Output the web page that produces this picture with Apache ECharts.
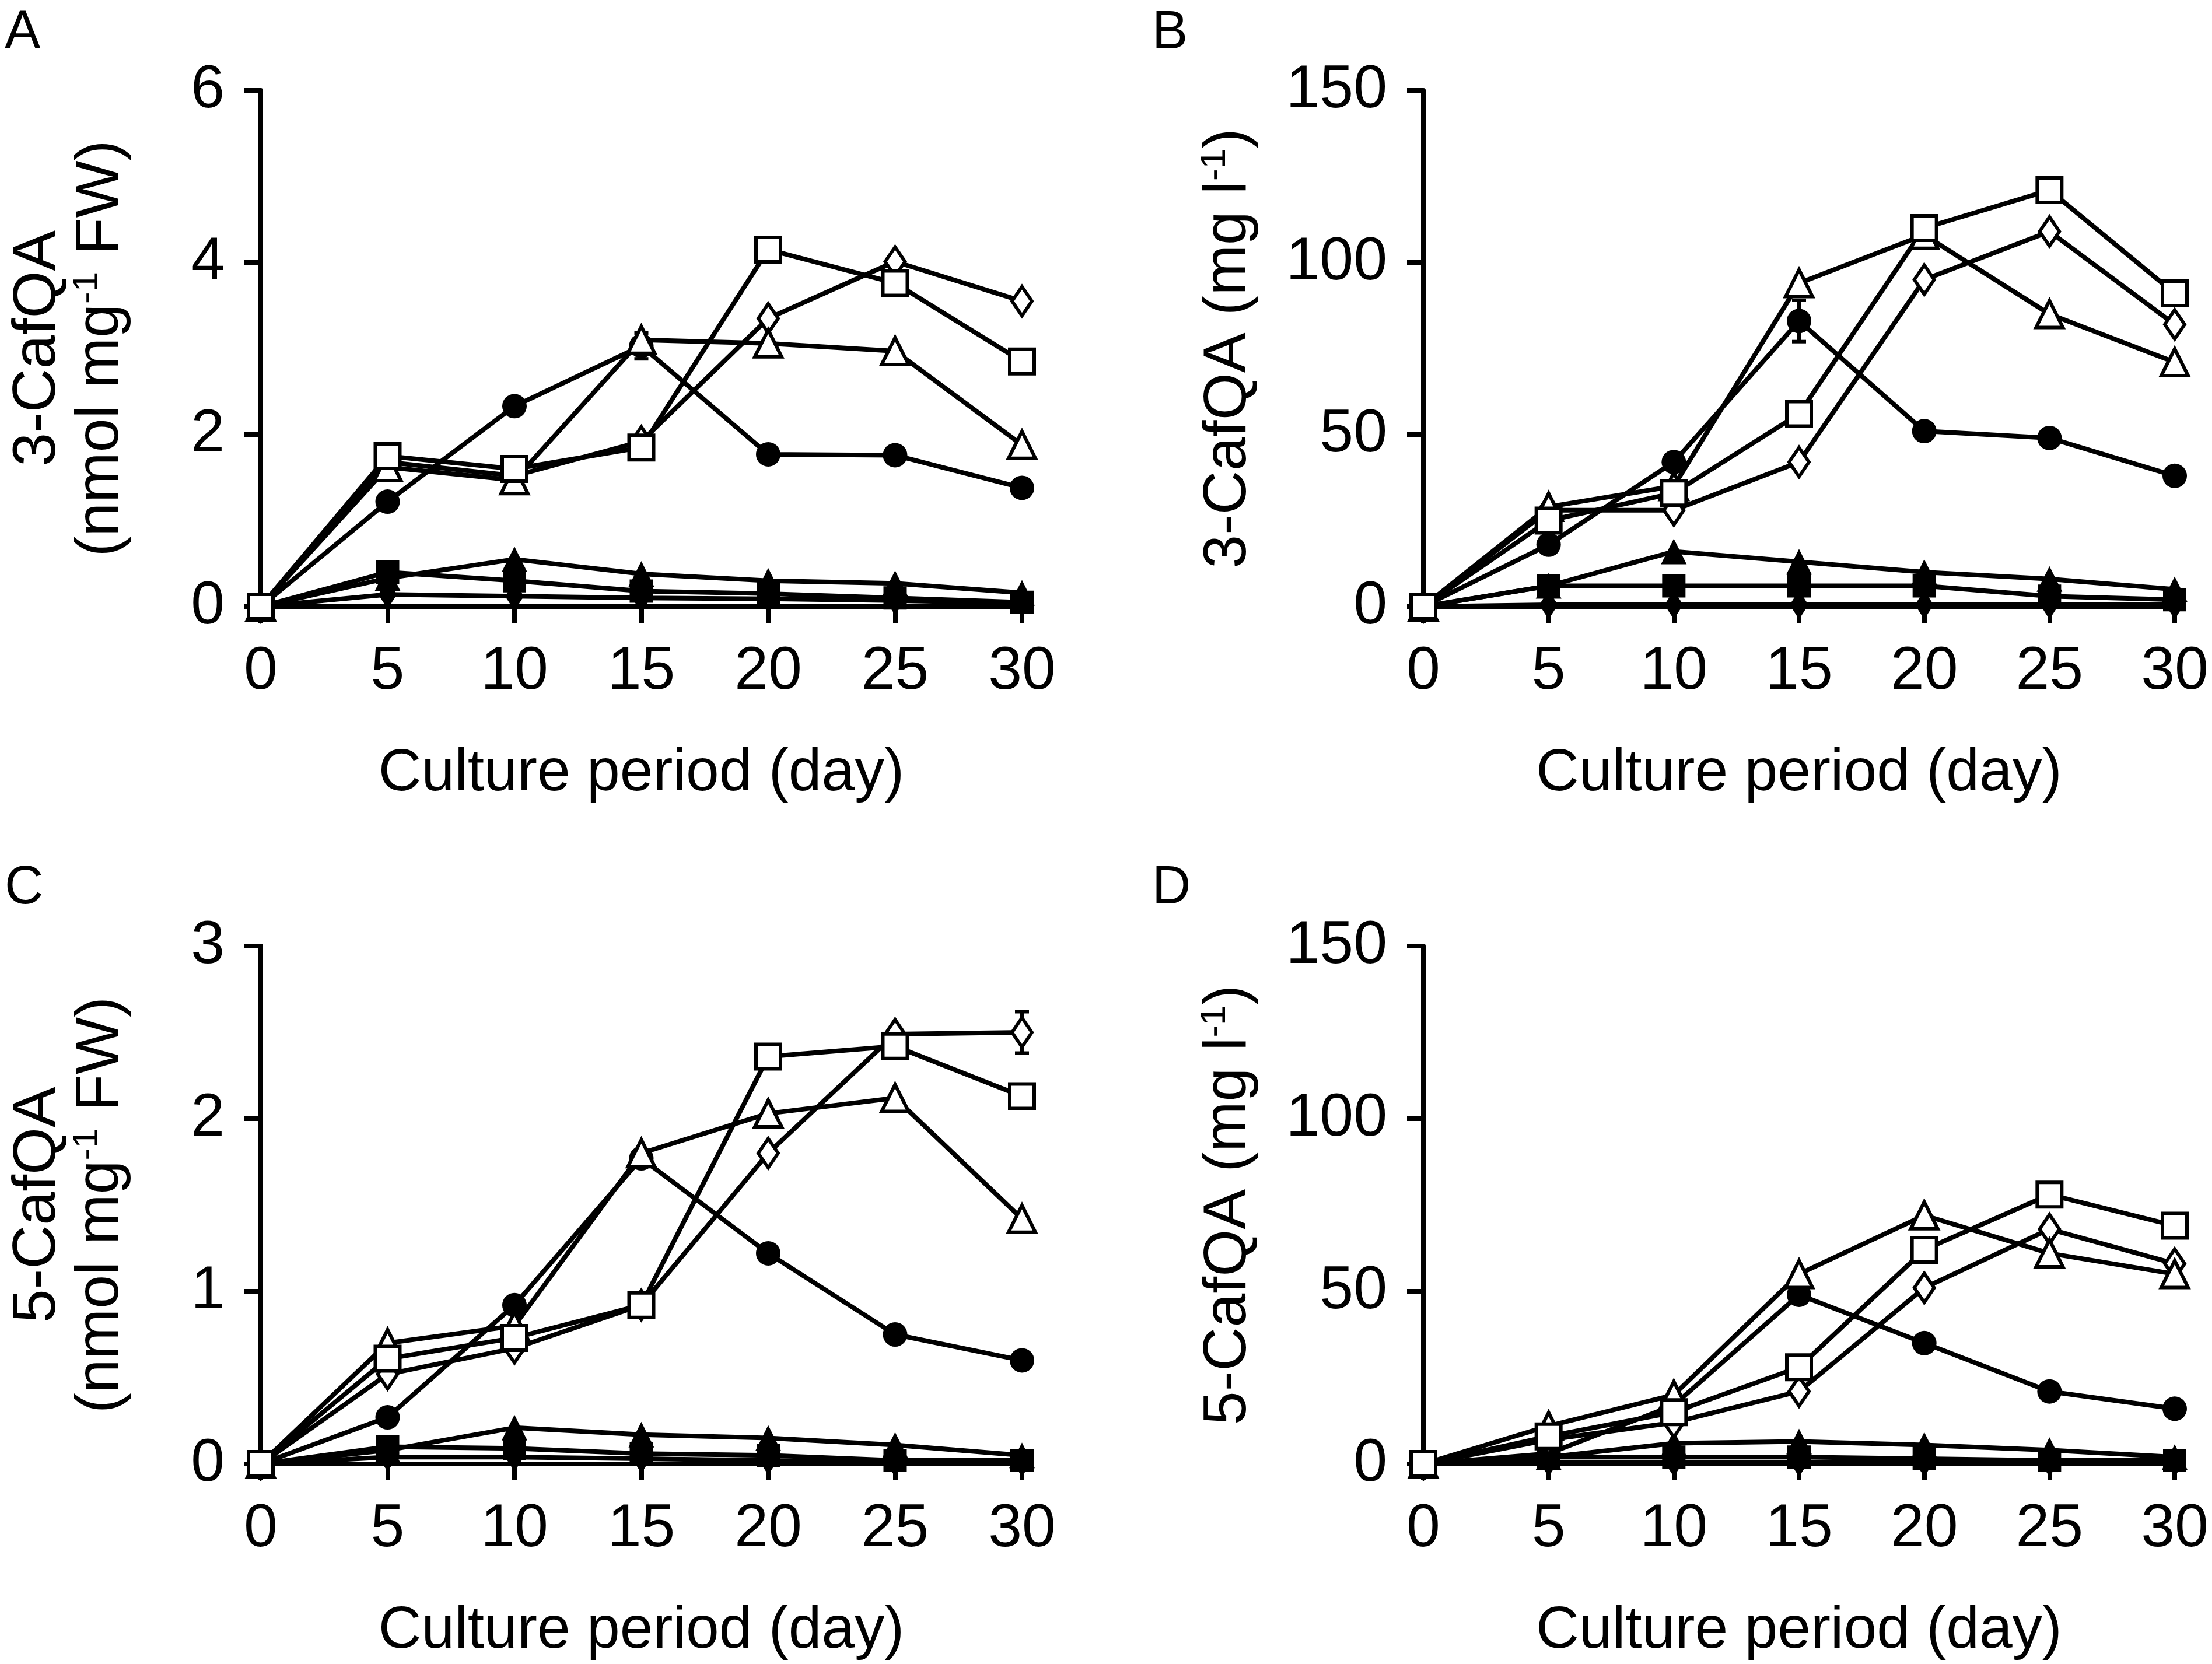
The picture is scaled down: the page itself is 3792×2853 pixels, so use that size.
<!DOCTYPE html>
<html>
<head>
<meta charset="utf-8">
<script src="https://cdn.jsdelivr.net/npm/echarts@6/dist/echarts.min.js"></script>
<style>
  html, body { margin: 0; padding: 0; background: #fff; }
  #chart { width: 3792px; height: 2853px; }
</style>
</head>
<body>
<div id="chart"></div>
<script>
  // culture days (x axis)
  var days = [0, 5, 10, 15, 20, 25, 30]

  // A: 3-CafQA in cells (nmol mg-1 FW)
  var aCircle = [0, 1.22, 2.33, 3.03, 1.77, 1.76, 1.38]
  var aSquare = [0, 1.75, 1.60, 1.85, 4.15, 3.76, 2.85]
  var aTriangle = [0, 1.62, 1.47, 3.10, 3.06, 2.97, 1.88]
  var aDiamond = [0, 1.68, 1.52, 1.92, 3.35, 4.01, 3.55]
  var aTriFill = [0, 0.33, 0.55, 0.38, 0.30, 0.27, 0.16]
  var aSqFill = [0, 0.40, 0.30, 0.18, 0.15, 0.10, 0.05]
  var aDiaFill = [0, 0.14, 0.12, 0.10, 0.09, 0.07, 0.04]
  var aCircleErr = [0, 0, 0, 0.15, 0, 0, 0]

  // B: 3-CafQA in medium (mg l-1)
  var bCircle = [0, 18, 42, 83, 51, 49, 38]
  var bSquare = [0, 25, 33, 56, 110, 121, 91]
  var bTriangle = [0, 29, 35, 94, 108, 85, 71]
  var bDiamond = [0, 28, 28, 42, 95, 109, 82]
  var bTriFill = [0, 6, 16, 13, 10, 8, 5]
  var bSqFill = [0, 6, 6, 6, 6, 3, 2]
  var bDiaFill = [0, 0.5, 0.5, 0.5, 0.5, 0.5, 0.5]
  var bCircleErr = [0, 0, 0, 6, 0, 0, 0]
  var bSquareErr = [0, 0, 0, 0, 0, 3, 0]

  // C: 5-CafQA in cells (nmol mg-1 FW)
  var cCircle = [0, 0.27, 0.92, 1.77, 1.22, 0.75, 0.60]
  var cSquare = [0, 0.61, 0.73, 0.92, 2.36, 2.42, 2.13]
  var cTriangle = [0, 0.70, 0.80, 1.80, 2.03, 2.12, 1.42]
  var cDiamond = [0, 0.52, 0.67, 0.92, 1.80, 2.49, 2.50]
  var cTriFill = [0, 0.08, 0.21, 0.17, 0.15, 0.11, 0.05]
  var cSqFill = [0, 0.10, 0.09, 0.06, 0.05, 0.02, 0.02]
  var cDiaFill = [0, 0.04, 0.04, 0.03, 0.02, 0.01, 0.01]
  var cDiamondErr = [0, 0, 0, 0, 0, 0, 0.12]

  // D: 5-CafQA in medium (mg l-1)
  var dCircle = [0, 3, 17, 49, 35, 21, 16]
  var dSquare = [0, 8, 15, 28, 62, 78, 69]
  var dTriangle = [0, 11, 20, 55, 72, 61, 55]
  var dDiamond = [0, 7, 12, 21, 51, 68, 58]
  var dTriFill = [0, 2, 6, 6.5, 5.5, 4, 2]
  var dSqFill = [0, 2, 2, 2, 1.5, 1, 1]
  var dDiaFill = [0, 0.5, 0.5, 0.5, 0.5, 0.5, 0.5]

  var font = 'Liberation Sans, Arial, sans-serif'
  var myChart = echarts.init(document.getElementById('chart'))

  function pairs(vals) {
      return days.map(function(d, i) { return [d, vals[i]] })
  }

  // one line series, open or filled marker
  function line(idx, vals, symbol, open, size) {
      return {
          type: 'line',
          xAxisIndex: idx,
          yAxisIndex: idx,
          data: pairs(vals),
          symbol: symbol,
          symbolSize: size,
          clip: false,
          lineStyle: { color: '#000', width: 8 },
          itemStyle: {
              color: open ? '#fff' : '#000',
              borderColor: '#000',
              borderWidth: open ? 6 : 0
          },
          z: open ? 4 : 3
      }
  }

  // error bars drawn with the axis scales
  function errBars(idx, vals, err) {
      var d = []
      days.forEach(function(x, i) {
          if (err[i] > 0) d.push([x, vals[i] - err[i], vals[i] + err[i]])
      })
      return {
          type: 'custom',
          xAxisIndex: idx,
          yAxisIndex: idx,
          data: d,
          z: 2,
          renderItem: function(params, api) {
              var lo = api.coord([api.value(0), api.value(1)])
              var hi = api.coord([api.value(0), api.value(2)])
              var w = 12
              var st = { stroke: '#000', lineWidth: 6 }
              return {
                  type: 'group',
                  children: [
                      { type: 'line', shape: { x1: lo[0], y1: lo[1], x2: hi[0], y2: hi[1] }, style: st },
                      { type: 'line', shape: { x1: lo[0] - w, y1: lo[1], x2: lo[0] + w, y2: lo[1] }, style: st },
                      { type: 'line', shape: { x1: hi[0] - w, y1: hi[1], x2: hi[0] + w, y2: hi[1] }, style: st }
                  ]
              }
          }
      }
  }

  function panelSeries(idx, c, s, t, dm, tf, sf, df) {
      return [
          line(idx, df, 'diamond', false, [32, 50]),
          line(idx, sf, 'rect', false, 40),
          line(idx, tf, 'triangle', false, 44),
          line(idx, c, 'circle', false, 42),
          line(idx, dm, 'diamond', true, [34, 50]),
          line(idx, t, 'triangle', true, 46),
          line(idx, s, 'rect', true, 42)
      ]
  }

  var grids = [
      { left: 447, top: 155, width: 1305, height: 885 },
      { left: 2440, top: 155, width: 1288, height: 885 },
      { left: 447, top: 1622, width: 1305, height: 888 },
      { left: 2440, top: 1622, width: 1288, height: 888 }
  ]

  var axisLine = { show: true, lineStyle: { color: '#000', width: 8 } }
  var axisTick = { show: true, inside: false, length: 28, lineStyle: { color: '#000', width: 8 } }

  var xAxes = grids.map(function(g, i) {
      return {
          type: 'value', gridIndex: i, min: 0, max: 30, interval: 5,
          axisLine: axisLine, axisTick: axisTick, splitLine: { show: false },
          axisLabel: { color: '#000', fontFamily: font, fontSize: 104, margin: 60 },
          name: 'Culture period (day)',
          nameLocation: 'middle',
          nameGap: 236,
          nameTextStyle: { color: '#000', fontFamily: font, fontSize: 102 }
      }
  })

  var supRich = {
      sup: { fontSize: 62, fontFamily: font, color: '#000', verticalAlign: 'top', lineHeight: 96 }
  }
  var yNames = [
      '3-CafQA\n(nmol mg{sup|-1} FW)',
      '3-CafQA (mg l{sup|-1})',
      '5-CafQA\n(nmol mg{sup|-1} FW)',
      '5-CafQA (mg l{sup|-1})'
  ]
  var yMax = [6, 150, 3, 150]
  var yStep = [2, 50, 1, 50]
  var yGap = [220, 280, 220, 280]

  var yAxes = grids.map(function(g, i) {
      return {
          type: 'value', gridIndex: i, min: 0, max: yMax[i], interval: yStep[i],
          axisLine: axisLine, axisTick: axisTick, splitLine: { show: false },
          axisLabel: { color: '#000', fontFamily: font, fontSize: 104, margin: 62 },
          name: yNames[i],
          nameLocation: 'middle',
          nameRotate: 90,
          nameGap: yGap[i],
          nameTextStyle: {
              color: '#000', fontFamily: font, fontSize: 104, lineHeight: 108,
              rich: supRich
          }
      }
  })

  var series = []
      .concat(panelSeries(0, aCircle, aSquare, aTriangle, aDiamond, aTriFill, aSqFill, aDiaFill))
      .concat(panelSeries(1, bCircle, bSquare, bTriangle, bDiamond, bTriFill, bSqFill, bDiaFill))
      .concat(panelSeries(2, cCircle, cSquare, cTriangle, cDiamond, cTriFill, cSqFill, cDiaFill))
      .concat(panelSeries(3, dCircle, dSquare, dTriangle, dDiamond, dTriFill, dSqFill, dDiaFill))
  series.push(errBars(0, aCircle, aCircleErr))
  series.push(errBars(1, bCircle, bCircleErr))
  series.push(errBars(1, bSquare, bSquareErr))
  series.push(errBars(2, cDiamond, cDiamondErr))

  // panel letters
  var letters = [['A', 8, 12], ['B', 1975, 12], ['C', 8, 1478], ['D', 1975, 1478]]
  var titles = letters.map(function(l) {
      return {
          text: l[0], left: l[1], top: l[2], padding: 0,
          textStyle: { color: '#000', fontFamily: font, fontSize: 92, fontWeight: 'normal' }
      }
  })

  var option = {
      backgroundColor: '#fff',
      animation: false,
      title: titles,
      grid: grids,
      xAxis: xAxes,
      yAxis: yAxes,
      series: series
  }
  myChart.setOption(option)
</script>
</body>
</html>
